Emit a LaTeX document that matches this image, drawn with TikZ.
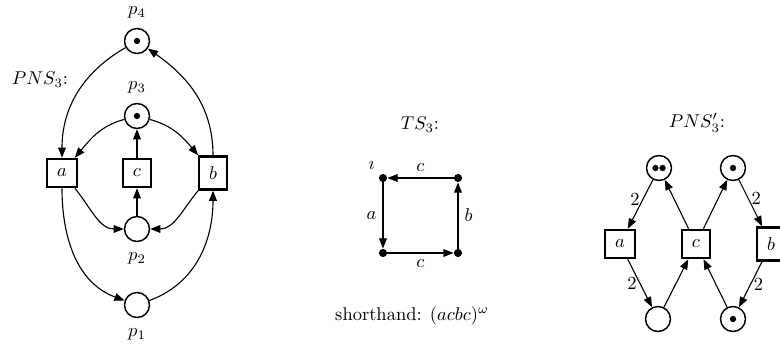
\documentclass[tikz,border=0pt]{standalone}
\usepackage{amsmath, amssymb}
\usepackage{tikz}
\usetikzlibrary{arrows.meta, positioning}

\tikzset{
  place/.style={circle, draw, thick, minimum size=13.5pt, inner sep=0pt},
  trans/.style={rectangle, draw, very thick, minimum size=14pt, inner sep=5.5pt},
  state/.style={circle, fill, inner sep=0pt, minimum size=4.4pt},
  arc/.style={-{Triangle[length=5.5pt, width=4.2pt]}, semithick},
  weight/.style={inner sep=1.5pt},
}
\newcommand{\tok}[1]{\fill (#1) circle (1.7pt);}

\begin{document}
\begin{tikzpicture}[x=0.19mm, y=-0.19mm]
  \useasboundingbox (0,0) rectangle (780,345);
  % Left net PNS_3
  \node at (40,80) {$PNS_3$:};
  \node[place, label={[label distance=1.5pt]above:$p_4$}] (p4) at (137,41) {};
  \node[place, label={[label distance=1.5pt]above:$p_3$}] (p3) at (137,116) {};
  \node[place, label={[label distance=2pt]below:$p_2$}] (p2) at (137,229) {};
  \node[place, label={[label distance=2pt]below:$p_1$}] (p1) at (137,305) {};
  \tok{p4} \tok{p3}
  \node[trans] (ta) at (62,173) {$a$};
  \node[trans] (tc) at (137,173) {$c$};
  \node[trans] (tb) at (213,173) {$b$};
  \draw[arc] (p4) to[out=210, in=90] (ta);
  \draw[arc] (tb) to[out=90, in=-35] (p4);
  \draw[arc] (p3) to[out=195, in=50] (ta);
  \draw[arc] (p3) to[out=-15, in=130] (tb);
  \draw[arc] (tc) -- (p3);
  \draw[arc] (p2) -- (tc);
  \draw[arc] (ta) to[out=-50, in=180] (p2);
  \draw[arc] (tb) to[out=-130, in=0] (p2);
  \draw[arc] (ta) to[out=-90, in=160] (p1);
  \draw[arc] (p1) to[out=20, in=-90] (tb);

  % Transition system TS_3
  \node at (420,125) {$TS_3$:};
  \node[state, label={[label distance=-1pt]above left:$\imath$}] (s0) at (383,178) {};
  \node[state] (s1) at (383,253) {};
  \node[state] (s2) at (458,253) {};
  \node[state] (s3) at (458,178) {};
  \draw[arc] (s0) -- node[left] {$a$} (s1);
  \draw[arc] (s1) -- node[below] {$c$} (s2);
  \draw[arc] (s2) -- node[right] {$b$} (s3);
  \draw[arc] (s3) -- node[above] {$c$} (s0);
  \node at (412,316) {shorthand: $(acbc)^\omega$};

  % Right net PNS'_3
  \node at (697,123) {$PNS'_3$:};
  \node[place] (q1) at (659,168) {};
  \node[place] (q2) at (733,168) {};
  \node[place] (q3) at (658,319) {};
  \node[place] (q4) at (733,319) {};
  \fill ([xshift=-1.9pt]q1.center) circle (1.7pt);
  \fill ([xshift=1.9pt]q1.center) circle (1.7pt);
  \tok{q2} \tok{q4}
  \node[trans] (ra) at (620,244) {$a$};
  \node[trans] (rc) at (696,244) {$c$};
  \node[trans] (rb) at (771,244) {$b$};
  \draw[arc] (q1) -- node[weight, left, pos=0.4] {2} (ra);
  \draw[arc] (rc) -- (q1);
  \draw[arc] (rc) -- (q2);
  \draw[arc] (q2) -- node[weight, right, pos=0.4] {2} (rb);
  \draw[arc] (ra) -- node[weight, left, pos=0.5] {2} (q3);
  \draw[arc] (q3) -- (rc);
  \draw[arc] (q4) -- (rc);
  \draw[arc] (rb) -- node[weight, right, pos=0.5] {2} (q4);
\end{tikzpicture}
\end{document}
